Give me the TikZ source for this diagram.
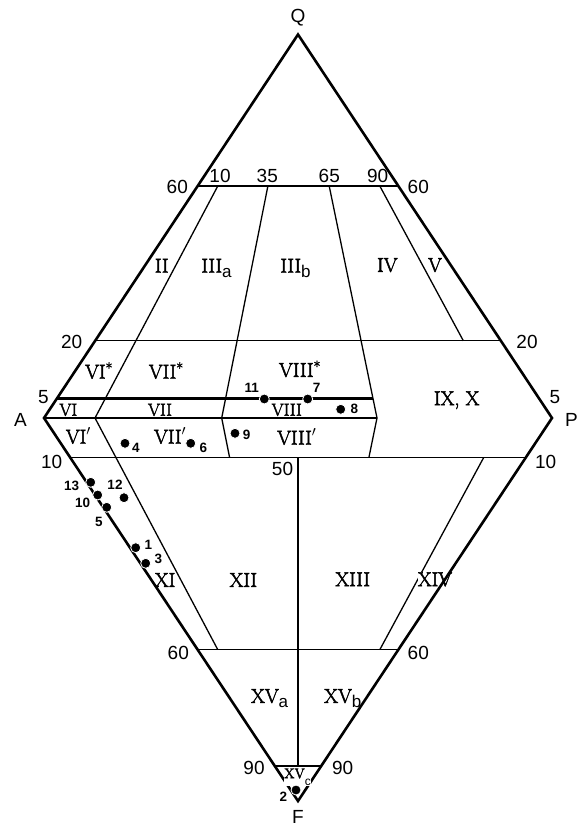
\documentclass[tikz,border=0pt]{standalone}
\usepackage{fontspec}
\newfontfamily\labsans{Liberation Sans}
\newfontfamily\romf[FakeBold=2.5]{Latin Modern Roman}
\newcommand\rmn{\romf\fontsize{20}{20}\selectfont}
\newcommand\rms{\romf\fontsize{17.5}{17.5}\selectfont}
\newcommand\lsz{\labsans\fontsize{19}{19}\selectfont}
\newcommand\dsz{\labsans\bfseries\fontsize{13.5}{13.5}\selectfont}
\newcommand\subl[1]{\raisebox{-4.5pt}{\labsans\fontsize{17}{17}\selectfont #1}}
\newcommand\stl{\raisebox{5pt}{\fontsize{15}{15}\selectfont *}}
\begin{document}
\begin{tikzpicture}[x=1pt,y=-1pt,
  edgeln/.style={line width=2.6pt, line join=miter, miter limit=10},
  divln/.style={line width=1.3pt},
  num/.style={font=\lsz, inner sep=0pt},
  rlab/.style={font=\rmn, anchor=base, inner sep=0pt},
  rsm/.style={font=\rms, anchor=base, inner sep=0pt},
  dlab/.style={font=\dsz, inner sep=0pt},
  sample/.style={circle, fill=black, draw=white, line width=0.8pt, minimum size=10pt, inner sep=0pt}]
\useasboundingbox (0,0) rectangle (581,826);
% vertices
\coordinate (Q) at (298,34.5);
\coordinate (A) at (44,418);
\coordinate (P) at (552,418);
\coordinate (F) at (298,801);
% horizontal levels
\coordinate (u60l) at (197.7,186);   \coordinate (u60r) at (398.3,186);
\coordinate (u20l) at (95.2,340.7);  \coordinate (u20r) at (500.8,340.7);
\coordinate (u5l)  at (56.9,398.5);  \coordinate (u5e)  at (373,398.5);
\coordinate (l10l) at (70.2,457.5);  \coordinate (l10r) at (525.8,457.5);
\coordinate (l60l) at (197.5,649.5); \coordinate (l60r) at (398.5,649.5);
\coordinate (l90l) at (274.8,766);   \coordinate (l90r) at (321.2,766);
% ratio lines
\coordinate (r10t) at (217.8,186); \coordinate (k10) at (95,418);    \coordinate (r10b) at (217.7,649.5);
\coordinate (r35t) at (267.9,186); \coordinate (k35) at (221.7,418); \coordinate (r35b) at (229.6,457.5);
\coordinate (r65t) at (329.2,186); \coordinate (k65) at (377,418);   \coordinate (r65b) at (368.9,457.5);
\coordinate (r90t) at (379.8,186); \coordinate (r90m) at (463.3,340.7);
\coordinate (r90a) at (483.7,457.5); \coordinate (r90b) at (379.9,649.5);
\coordinate (m50t) at (298,457.5); \coordinate (m50b) at (298,766);

\draw[divln] (u60l) -- (u60r);
\draw[divln] (u20l) -- (u20r);
\draw[line width=2.2pt] (u5l) -- (u5e);
\draw[line width=1.5pt] (A) -- (k65);
\draw[divln] (l10l) -- (l10r);
\draw[divln] (l60l) -- (l60r);
\draw[divln] (l90l) -- (l90r);
\draw[divln] (r10t) -- (k10) -- (r10b);
\draw[divln] (r35t) -- (k35) -- (r35b);
\draw[divln] (r65t) -- (k65) -- (r65b);
\draw[divln] (r90t) -- (r90m);
\draw[divln] (r90a) -- (r90b);
\draw[divln] (m50t) -- (m50b);

\node[rlab, fill=white] (fXIV) at (435,586.1) {XIV};

\draw[edgeln] (Q) -- (A) -- (F) -- (P) -- cycle;

% corner labels
\node[num] (lQ) at (298,18) {Q};
\node[num] (lA) at (20.5,419.5) {A};
\node[num] (lP) at (571.5,419.5) {P};
\node[num] (lF) at (298,816.5) {F};
% scale numbers
\node[num] at (177.3,187) {60};
\node[num] at (418.3,187) {60};
\node[num] at (220,175.7) {10};
\node[num] at (267.3,175.7) {35};
\node[num] at (329.3,175.7) {65};
\node[num] at (377.7,175.7) {90};
\node[num] at (71.7,341.7) {20};
\node[num] at (527,341.7) {20};
\node[num] at (43.3,397.3) {5};
\node[num] at (555,397.3) {5};
\node[num] at (51.7,461.7) {10};
\node[num] at (545.7,461.7) {10};
\node[num] at (282.5,469) {50};
\node[num] at (178.3,653.3) {60};
\node[num] at (418.3,652.7) {60};
\node[num] at (254,768.3) {90};
\node[num] at (342.7,768.3) {90};

% field labels
\node[rlab] (fII) at (161.7,272.5) {II};
\node[rlab] (fIIIa) at (216.5,272.5) {III\subl{a}};
\node[rlab] (fIIIb) at (295.5,272.5) {III\subl{b}};
\node[rlab] (fIV) at (387.3,271.8) {IV};
\node[rlab] (fV) at (435,271.8) {V};
\node[rlab] (fVIs) at (98.8,378.5) {VI\stl};
\node[rlab] (fVIIs) at (166,378.5) {VII\stl};
\node[rlab] (fVIIIs) at (299.7,376.8) {VIII\stl};
\node[rsm] (fVI) at (68.3,415.7) {VI};
\node[rsm] (fVII) at (160,415.7) {VII};
\node[rsm] (fVIII) at (286.7,415.7) {VIII};
\node[rlab] (fIX) at (456.7,405.1) {IX, X};
\node[rlab] (fVIp) at (78.3,443.5) {VI$'$};
\node[rlab] (fVIIp) at (170,443.5) {VII$'$};
\node[rlab] (fVIIIp) at (296.7,444.5) {VIII$'$};
\node[rlab] (fXI) at (165,586.8) {XI};
\node[rlab] (fXII) at (243.3,586.8) {XII};
\node[rlab] (fXIII) at (352.7,586.1) {XIII};
\node[rlab] (fXVa) at (269.6,702.8) {XV\subl{a}};
\node[rlab] (fXVb) at (342.8,702.8) {XV\subl{b}};
\node[anchor=base, inner sep=0.5pt, fill=white, font=\romf\fontsize{14}{14}\selectfont] (fXVc) at (297.5,778.1) {XV\raisebox{-7pt}{\labsans\fontsize{12}{12}\selectfont c}};

% samples
\node[sample] (s1) at (135.7,547.7) {};
\node[sample] (s2) at (296,790) {};
\node[sample] (s3) at (145.7,563.3) {};
\node[sample] (s4) at (125,443.3) {};
\node[sample] (s5) at (106.7,507.3) {};
\node[sample] (s6) at (190.7,443.3) {};
\node[sample] (s7) at (307.7,399) {};
\node[sample] (s8) at (340.7,409.3) {};
\node[sample] (s9) at (235,433.3) {};
\node[sample] (s10) at (97.7,495) {};
\node[sample] (s11) at (264.3,399) {};
\node[sample] (s12) at (124,497.7) {};
\node[sample] (s13) at (90.7,482.3) {};
\node[dlab] (n1) at (148.3,545) {1};
\node[dlab] (n2) at (283.3,796.7) {2};
\node[dlab] (n3) at (158.3,559) {3};
\node[dlab] (n4) at (136,448.3) {4};
\node[dlab] (n5) at (99,522.3) {5};
\node[dlab] (n6) at (203.3,448.3) {6};
\node[dlab] (n7) at (316.7,387.7) {7};
\node[dlab] (n8) at (354.3,409.3) {8};
\node[dlab] (n9) at (246.7,435) {9};
\node[dlab] (n10) at (82.7,503.3) {10};
\node[dlab] (n11) at (251.7,388.3) {11};
\node[dlab] (n12) at (115,485) {12};
\node[dlab] (n13) at (71.7,486) {13};
\end{tikzpicture}
\end{document}
